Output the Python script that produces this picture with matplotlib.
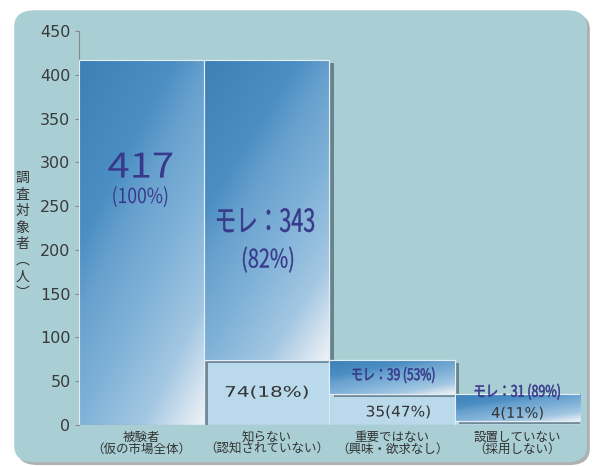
import matplotlib
matplotlib.use("Agg")
import matplotlib.pyplot as plt
import matplotlib.patheffects as pe
import matplotlib.transforms as mtrans
from matplotlib.colors import LinearSegmentedColormap
from matplotlib.font_manager import FontProperties
from matplotlib.patches import FancyBboxPatch, PathPatch
from matplotlib.textpath import TextPath
import numpy as np

plt.rcParams["font.family"] = ["Noto Sans CJK JP", "DejaVu Sans"]

# Data
categories = ["被験者\n（仮の市場全体）", "知らない\n（認知されていない）",
              "重要ではない\n（興味・欲求なし）", "設置していない\n（採用しない）"]
base_values = [0, 74, 35, 4]        # light part (stays)
leak_values = [417, 343, 39, 31]    # gradient part (モレ)
base_labels = ["", "74(18%)", "35(47%)", "4(11%)"]
leak_labels = ["417", "モレ：343", "モレ：39 (53%)", "モレ：31 (89%)"]
leak_pcts = ["(100%)", "(82%)", "", ""]

bg_color = "#a9cfd4"
light_color = "#bad9ea"
text_blue = "#38398a"
text_grey = "#333333"


def fit_text(ax, x, y, s, w_px, h_px, color, family="Noto Sans CJK JP", stroke=0.0):
    # draw text centred at data (x, y), stretched so its ink box is w_px x h_px
    tp = TextPath((0, 0), s, size=10, prop=FontProperties(family=family))
    ext = tp.get_extents()
    tr = (mtrans.Affine2D()
          .translate(-(ext.x0 + ext.x1) / 2, -(ext.y0 + ext.y1) / 2)
          .scale(w_px / ext.width, h_px / ext.height)
          + mtrans.ScaledTranslation(x, y, ax.transData))
    ax.add_patch(PathPatch(tp, transform=tr, facecolor=color,
                           edgecolor=color if stroke else "none",
                           linewidth=stroke, zorder=6, clip_on=False))


fig = plt.figure(figsize=(5.93, 4.66), dpi=100)

# rounded background panel
panel = FancyBboxPatch((0.024, 0.008), 0.966, 0.970,
                       boxstyle="round,pad=0,rounding_size=0.035",
                       transform=fig.transFigure, facecolor=bg_color,
                       edgecolor="none", zorder=-5,
                       path_effects=[pe.withSimplePatchShadow(offset=(2, -2), alpha=0.4)])
fig.patches.append(panel)

ax = fig.add_axes([0.133, 0.088, 0.845, 0.845])
ax.set_facecolor("none")
ax.set_zorder(1)

x = np.arange(len(categories))
grad_cmap = LinearSegmentedColormap.from_list(
    "bar", [(0, "#3d80b5"), (0.3, "#4b8ec3"), (0.42, "#68a1ce"),
            (0.6, "#80b2d8"), (0.8, "#a3c7e2"), (0.92, "#d2e2ef"),
            (1, "#eef2f6")])

# gradient image (diagonal, dark at top left, pale at bottom right)
u = np.linspace(0, 1, 200)
uu, vv = np.meshgrid(u, u)
t = np.clip(uu * 0.4 + (1 - vv) * 0.6, 0, 1)
grad_rgb = grad_cmap(t)

shadow = [pe.withSimplePatchShadow(offset=(3, -2), alpha=0.45), pe.Normal()]

for i in range(len(categories)):
    b = base_values[i]
    h = leak_values[i]
    if b > 0:
        ax.bar(x[i], b, width=1, color=light_color, edgecolor="#dcebf3",
               linewidth=0.8, zorder=2, path_effects=shadow)
    bar = ax.bar(x[i], h, bottom=b, width=1, color="#4a8dc0",
                 edgecolor="#e4eef4", linewidth=0.8, zorder=3,
                 path_effects=shadow)[0]
    im = ax.imshow(grad_rgb, extent=(x[i] - 0.5, x[i] + 0.5, b, b + h),
                   origin="lower", aspect="auto", interpolation="bilinear",
                   zorder=3.5)
    im.set_clip_path(bar)
    ax.bar(x[i], h, bottom=b, width=1, color="none", edgecolor="#e4eef4",
           linewidth=0.8, zorder=4)

ax.set_xlim(-0.5, 3.5)
ax.set_ylim(0, 450)

# value labels (condensed lettering as in the original)
fit_text(ax, -0.01, 297, leak_labels[0], 64, 25, text_blue)
fit_text(ax, -0.01, 261, leak_pcts[0], 54, 21, text_blue)
fit_text(ax, 0.99, 234, leak_labels[1], 97, 24, text_blue, stroke=0.3)
fit_text(ax, 1.01, 189, leak_pcts[1], 50, 26, text_blue, stroke=0.2)
fit_text(ax, 2.01, 57, leak_labels[2], 82, 16, text_blue, stroke=0.4)
fit_text(ax, 3.0, 38, leak_labels[3], 85, 16, text_blue, stroke=0.4)
fit_text(ax, 1.0, 37.5, base_labels[1], 82, 13, text_grey, "DejaVu Sans")
fit_text(ax, 2.05, 15, base_labels[2], 63, 13, text_grey, "DejaVu Sans")
fit_text(ax, 3.0, 13.5, base_labels[3], 51, 13, text_grey, "DejaVu Sans")

# axes styling
for side in ["top", "right", "bottom"]:
    ax.spines[side].set_visible(False)
ax.spines["left"].set_color("#888888")
ax.spines["left"].set_linewidth(0.8)
ax.axhline(0, color="#555555", linewidth=0.8, linestyle=(0, (2, 1)), zorder=6)
ax.set_yticks(range(0, 451, 50))
ax.tick_params(axis="y", length=3, color="#888888", pad=3)
for lab in ax.get_yticklabels():
    lab.set_fontfamily("DejaVu Sans")
    lab.set_fontsize(11.5)
    lab.set_color("#3a3a3a")
ax.set_xticks(x)
ax.set_xticklabels(categories, fontsize=9, color=text_grey, linespacing=0.95)
ax.tick_params(axis="x", length=0, pad=4)

fig.text(0.038, 0.494, "調\n査\n対\n象\n者\n︵\n人\n︶", ha="center",
         va="center", fontsize=10, color=text_grey, linespacing=1.22)

fig.savefig("out.png", dpi=100, facecolor="white")
